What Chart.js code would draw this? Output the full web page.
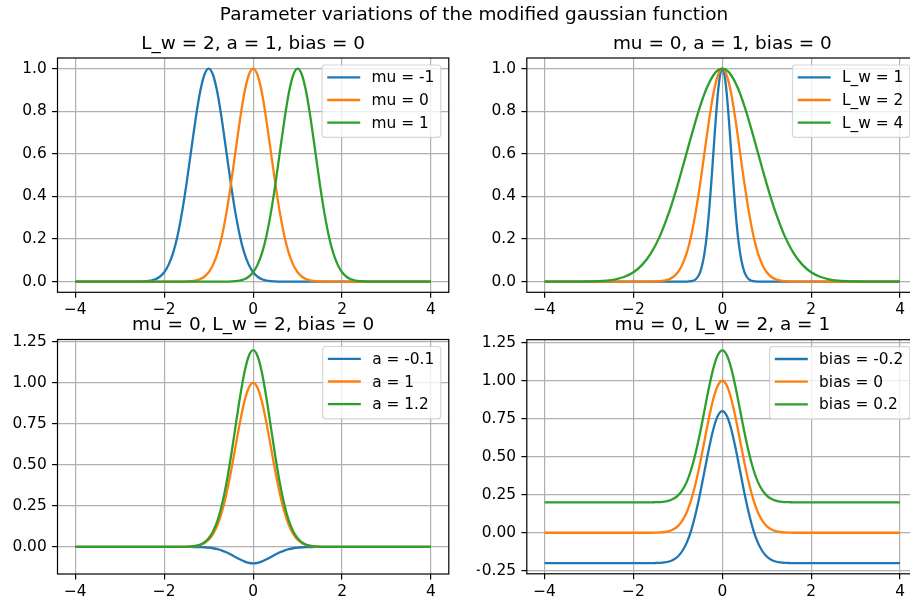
<!DOCTYPE html>
<html>
<head>
<meta charset="utf-8">
<script src="https://cdn.jsdelivr.net/npm/chart.js@4.4.1/dist/chart.umd.min.js"></script>
<style>
  html, body { margin: 0; padding: 0; background: #fff; overflow: hidden; }
  #fig { position: relative; width: 910px; height: 603px; overflow: hidden; background: #fff; }
  #fig canvas { position: absolute; left: 0; top: 0; }
</style>
</head>
<body>
<div id="fig">
  <canvas id="muChart" width="930" height="603"></canvas>
  <canvas id="lwChart" width="930" height="603"></canvas>
  <canvas id="aChart" width="930" height="603"></canvas>
  <canvas id="biasChart" width="930" height="603"></canvas>
</div>
<script>
// ---- data ----
const figTitle = 'Parameter variations of the modified gaussian function'

const xTicks = [-4, -2, 0, 2, 4]
const yTicksTop = [0, 0.2, 0.4, 0.6, 0.8, 1.0]
const yTicksA = [0, 0.25, 0.5, 0.75, 1.0, 1.25]
const yTicksBias = [-0.25, 0, 0.25, 0.5, 0.75, 1.0, 1.25]

// top left: mu varies
const xMu = [-4, -3.5, -3, -2.6, -2.5, -2.4, -2.3, -2.2, -2.1, -2, -1.9, -1.8, -1.7, -1.6, -1.5, -1.4, -1.3, -1.2, -1.1, -1,
  -0.9, -0.8, -0.7, -0.6, -0.5, -0.4, -0.3, -0.2, -0.1, 0, 0.1, 0.2, 0.3, 0.4, 0.5, 0.6, 0.7, 0.8, 0.9, 1,
  1.1, 1.2, 1.3, 1.4, 1.5, 1.6, 1.7, 1.8, 1.9, 2, 2.1, 2.2, 2.3, 2.4, 2.5, 2.6, 3, 3.5, 4]
const muLabels = ['mu = -1', 'mu = 0', 'mu = 1']
const muNeg1 = [0, 0, 0,
  0, .001, .002, .005, .011, .023, .044, .080, .135, .216, .325, .458, .607, .755, .883, .969, 1,
  .969, .883, .755, .607, .458, .325, .216, .135, .080, .044, .023, .011, .005, .002, .001,
  0, 0, 0, 0, 0, 0, 0, 0, 0, 0, 0, 0, 0, 0, 0, 0, 0, 0, 0, 0, 0,
  0, 0, 0]
const mu0 = [0, 0, 0,
  0, 0, 0, 0, 0, 0, 0, 0, 0, 0, 0,
  .001, .002, .005, .011, .023, .044, .080, .135, .216, .325, .458, .607, .755, .883, .969,
  1,
  .969, .883, .755, .607, .458, .325, .216, .135, .080, .044, .023, .011, .005, .002, .001,
  0, 0, 0, 0, 0, 0, 0, 0, 0, 0, 0,
  0, 0, 0]
const mu1 = [0, 0, 0,
  0, 0, 0, 0, 0, 0, 0, 0, 0, 0, 0, 0, 0, 0, 0, 0, 0, 0, 0, 0, 0,
  .001, .002, .005, .011, .023, .044, .080, .135, .216, .325, .458, .607, .755, .883, .969, 1,
  .969, .883, .755, .607, .458, .325, .216, .135, .080, .044, .023, .011, .005, .002, .001,
  0,
  0, 0, 0]

// top right: L_w varies
const xLw = [-4, -3.6, -3.2, -3, -2.8, -2.6, -2.4, -2.2, -2, -1.8, -1.6, -1.4, -1.2, -1.1, -1, -0.9, -0.8, -0.7, -0.6,
  -0.55, -0.5, -0.45, -0.4, -0.35, -0.3, -0.25, -0.2, -0.15, -0.1, -0.05, 0,
  0.05, 0.1, 0.15, 0.2, 0.25, 0.3, 0.35, 0.4, 0.45, 0.5, 0.55,
  0.6, 0.7, 0.8, 0.9, 1, 1.1, 1.2, 1.4, 1.6, 1.8, 2, 2.2, 2.4, 2.6, 2.8, 3, 3.2, 3.6, 4]
const lwLabels = ['L_w = 1', 'L_w = 2', 'L_w = 4']
const lw1 = [0, 0, 0, 0, 0, 0, 0, 0, 0, 0, 0, 0, 0, 0, 0, 0, 0, .002, .011,
  .023, .044, .080, .135, .216, .325, .458, .607, .755, .883, .969, 1,
  .969, .883, .755, .607, .458, .325, .216, .135, .080, .044, .023,
  .011, .002, 0, 0, 0, 0, 0, 0, 0, 0, 0, 0, 0, 0, 0, 0, 0, 0, 0]
const lw2 = [0, 0, 0, 0, 0, 0, 0, 0, 0, 0, 0, .002, .011, .023, .044, .080, .135, .216, .325,
  .389, .458, .531, .607, .682, .755, .823, .883, .932, .969, .992, 1,
  .992, .969, .932, .883, .823, .755, .682, .607, .531, .458, .389,
  .325, .216, .135, .080, .044, .023, .011, .002, 0, 0, 0, 0, 0, 0, 0, 0, 0, 0, 0]
const lw4 = [0, 0, 0, .001, .002, .005, .011, .023, .044, .080, .135, .216, .325, .389, .458, .531, .607, .682, .755,
  .790, .823, .854, .883, .909, .932, .952, .969, .983, .992, .998, 1,
  .998, .992, .983, .969, .952, .932, .909, .883, .854, .823, .790,
  .755, .682, .607, .531, .458, .389, .325, .216, .135, .080, .044, .023, .011, .005, .002, .001, 0, 0, 0]

// bottom: a and bias vary
const xAmp = [-4, -3.5, -3, -2.5, -2, -1.6, -1.5, -1.4, -1.3, -1.2, -1.1, -1, -0.9, -0.8, -0.7, -0.6, -0.5, -0.4, -0.3, -0.2, -0.1,
  0, 0.1, 0.2, 0.3, 0.4, 0.5, 0.6, 0.7, 0.8, 0.9, 1, 1.1, 1.2, 1.3, 1.4, 1.5, 1.6, 2, 2.5, 3, 3.5, 4]
const aLabels = ['a = -0.1', 'a = 1', 'a = 1.2']
const aNeg = [0, 0, 0, 0, 0, 0, 0, 0, -.001, -.001, -.002, -.004, -.008, -.014, -.022, -.032, -.046, -.061, -.075, -.088, -.097,
  -.1, -.097, -.088, -.075, -.061, -.046, -.032, -.022, -.014, -.008, -.004, -.002, -.001, -.001, 0, 0, 0, 0, 0, 0, 0, 0]
const a1 = [0, 0, 0, 0, 0, 0, .001, .002, .005, .011, .023, .044, .080, .135, .216, .325, .458, .607, .755, .883, .969,
  1, .969, .883, .755, .607, .458, .325, .216, .135, .080, .044, .023, .011, .005, .002, .001, 0, 0, 0, 0, 0, 0]
const a12 = [0, 0, 0, 0, 0, 0, .001, .003, .006, .013, .028, .053, .096, .162, .260, .390, .550, .728, .906, 1.059, 1.163,
  1.2, 1.163, 1.059, .906, .728, .550, .390, .260, .162, .096, .053, .028, .013, .006, .003, .001, 0, 0, 0, 0, 0, 0]

const biasLabels = ['bias = -0.2', 'bias = 0', 'bias = 0.2']
const biasNeg = [-.2, -.2, -.2, -.2, -.2, -.2, -.199, -.198, -.195, -.189, -.177, -.156, -.120, -.065, .016, .125, .258, .407, .555, .683, .769,
  .8, .769, .683, .555, .407, .258, .125, .016, -.065, -.120, -.156, -.177, -.189, -.195, -.198, -.199, -.2, -.2, -.2, -.2, -.2, -.2]
const bias0 = [0, 0, 0, 0, 0, 0, .001, .002, .005, .011, .023, .044, .080, .135, .216, .325, .458, .607, .755, .883, .969,
  1, .969, .883, .755, .607, .458, .325, .216, .135, .080, .044, .023, .011, .005, .002, .001, 0, 0, 0, 0, 0, 0]
const biasPos = [.2, .2, .2, .2, .2, .2, .201, .202, .205, .211, .223, .244, .280, .335, .416, .525, .658, .807, .955, 1.083, 1.169,
  1.2, 1.169, 1.083, .955, .807, .658, .525, .416, .335, .280, .244, .223, .211, .205, .202, .201, .2, .2, .2, .2, .2, .2]

// ---- look ----
const COLORS = ['#1f77b4', '#ff7f0e', '#2ca02c']
const FONT = '"DejaVu Sans"'
const TICK_SIZE = 15.4
const TITLE_SIZE = 18.45
const LEGEND_SIZE = 15.4
const LINE_W = 2.3
const CANVAS_W = 930, CANVAS_H = 603
const Y_AXIS_W = 50, X_AXIS_H = 30

Chart.defaults.font.family = FONT
Chart.defaults.color = '#000'

function minusFmt(v, dec) {
  const s = Math.abs(v).toFixed(dec)
  return v < 0 ? '\u2212' + s : s
}

// matplotlib-ish decorations: full frame, axes title, legend box, figure title
const mplDecor = {
  id: 'mplDecor',
  afterDatasetsDraw(chart, args, opts) {
    const ctx = chart.ctx
    const a = chart.chartArea
    ctx.save()

    ctx.strokeStyle = '#000'
    ctx.lineWidth = 1.2
    ctx.strokeRect(a.left, a.top, a.right - a.left, a.bottom - a.top)

    // legend
    const sets = chart.data.datasets
    ctx.font = LEGEND_SIZE + 'px ' + FONT
    let tw = 0
    sets.forEach(d => { tw = Math.max(tw, ctx.measureText(d.label).width) })
    const w = 49.5 + tw + 6.5, h = 72.3
    const x0 = a.right - 8 - w, y0 = a.top + 7
    ctx.beginPath()
    ctx.roundRect(x0, y0, w, h, 3)
    ctx.fillStyle = 'rgba(255,255,255,0.8)'
    ctx.fill()
    ctx.strokeStyle = 'rgba(204,204,204,0.8)'
    ctx.lineWidth = 1.2
    ctx.stroke()
    sets.forEach((d, i) => {
      const y = y0 + 12.3 + i * 22.7
      ctx.beginPath()
      ctx.moveTo(x0 + 5.2, y)
      ctx.lineTo(x0 + 38.2, y)
      ctx.strokeStyle = d.borderColor
      ctx.lineWidth = LINE_W
      ctx.stroke()
      ctx.fillStyle = '#000'
      ctx.textAlign = 'left'
      ctx.textBaseline = 'middle'
      ctx.fillText(d.label, x0 + 49.5, y + 1)
    })

    // axes title
    ctx.fillStyle = '#000'
    ctx.font = TITLE_SIZE + 'px ' + FONT
    ctx.textAlign = 'center'
    ctx.textBaseline = 'alphabetic'
    ctx.fillText(opts.title, (a.left + a.right) / 2, a.top - 9.5)

    if (opts.figTitle) {
      ctx.fillText(opts.figTitle, 474, 19.5)
    }
    ctx.restore()
  }
}

function axisStyle() {
  return {
    grid: {color: '#b0b0b0', lineWidth: 1.2, tickColor: '#000', tickLength: 5.4, tickWidth: 1.2},
    border: {display: false}
  }
}

function makeChart(id, box, title, xs, ys, labels, yTicks, yMin, yMax, dec, extra) {
  const datasets = ys.map((arr, i) => ({
    label: labels[i],
    data: xs.map((x, k) => ({x: x, y: arr[k]})),
    borderColor: COLORS[i],
    borderWidth: LINE_W,
    pointRadius: 0,
    fill: false,
    order: ys.length - i,   // later series drawn on top, as in the figure
    cubicInterpolationMode: 'monotone'
  }))
  return new Chart(document.getElementById(id), {
    type: 'line',
    data: {datasets: datasets},
    options: {
      responsive: false,
      animation: false,
      layout: {
        padding: {
          left: box.L - Y_AXIS_W,
          top: box.T,
          right: CANVAS_W - box.R,
          bottom: CANVAS_H - box.B - X_AXIS_H
        }
      },
      plugins: {
        legend: {display: false},
        tooltip: {enabled: false},
        title: {display: false},
        mplDecor: Object.assign({title: title}, extra || {})
      },
      scales: {
        x: Object.assign(axisStyle(), {
          type: 'linear', min: -4.4, max: 4.4,
          afterBuildTicks: s => { s.ticks = xTicks.map(v => ({value: v})) },
          afterFit: s => { s.height = X_AXIS_H },
          ticks: {font: {size: TICK_SIZE}, color: '#000', padding: 3.5, maxRotation: 0, autoSkip: false,
            callback: v => minusFmt(v, 0)}
        }),
        y: Object.assign(axisStyle(), {
          type: 'linear', min: yMin, max: yMax,
          afterBuildTicks: s => { s.ticks = yTicks.map(v => ({value: v})) },
          afterFit: s => { s.width = Y_AXIS_W },
          ticks: {font: {size: TICK_SIZE}, color: '#000', padding: 5.4, autoSkip: false,
            callback: v => minusFmt(v, dec)}
        })
      }
    },
    plugins: [mplDecor]
  })
}

makeChart('muChart', {L: 57.5, T: 58, R: 448.8, B: 292.3}, 'L_w = 2, a = 1, bias = 0',
  xMu, [muNeg1, mu0, mu1], muLabels, yTicksTop, -0.05, 1.05, 1, {figTitle: figTitle})
makeChart('lwChart', {L: 526.8, T: 58, R: 917.8, B: 292.3}, 'mu = 0, a = 1, bias = 0',
  xLw, [lw1, lw2, lw4], lwLabels, yTicksTop, -0.05, 1.05, 1)
makeChart('aChart', {L: 57.5, T: 339.5, R: 448.8, B: 574}, 'mu = 0, L_w = 2, bias = 0',
  xAmp, [aNeg, a1, a12], aLabels, yTicksA, -0.165, 1.265, 2)
makeChart('biasChart', {L: 526.8, T: 339.7, R: 917.8, B: 573.8}, 'mu = 0, L_w = 2, a = 1',
  xAmp, [biasNeg, bias0, biasPos], biasLabels, yTicksBias, -0.27, 1.27, 2)
</script>
</body>
</html>
